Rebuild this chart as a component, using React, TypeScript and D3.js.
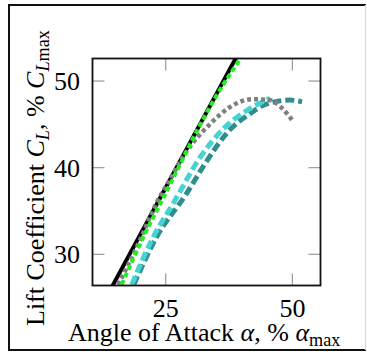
import React from "react";
import * as d3 from "d3";

const xTicks = [25, 50];
const yTicks = [30, 40, 50];

const blackA = [10, 40];
const blackC = [21.5, 53.9];

const greenA = [16.3, 19.0, 21.6, 24.0, 27.6, 31.3, 34.9, 39.8];
const greenC = [26.5, 30.0, 33.2, 35.9, 40.1, 44.4, 48.2, 52.6];

const grayA = [15.6, 19.9, 22.9, 25.2, 29.5, 33.7, 37.7, 42.0, 45.5, 47.9, 50.2];
const grayC = [26.5, 31.6, 35.6, 38.0, 42.2, 45.0, 47.0, 47.9, 47.8, 46.9, 45.3];

const cyanA = [18.3, 22.2, 26.8, 31.8, 36.4, 41.0, 45.6];
const cyanC = [26.5, 31.6, 36.2, 41.2, 44.5, 46.6, 48.0];

const tealA = [18.7, 23.2, 29.1, 32.8, 37.7, 41.3, 44.3, 49.5, 51.9];
const tealC = [26.5, 32.0, 37.0, 40.5, 44.4, 46.1, 47.2, 47.8, 47.6];

const W = 367;
const H = 352;
const L = 92.5, R = 320.5, T = 58.5, B = 285.5;

export default function App() {
  const x = d3.scaleLinear().domain([10.55, 55.55]).range([L, R]);
  const y = d3.scaleLinear().domain([26.4, 52.6]).range([B, T]);
  const line = d3.line<[number, number]>().x(d => x(d[0])).y(d => y(d[1])).curve(d3.curveMonotoneX);
  const pts = (a: number[], c: number[]) => a.map((v, i) => [v, c[i]] as [number, number]);
  const fs = 20;
  const k = 1.3;
  const series = [
    { a: blackA, c: blackC, color: "#000000", w: 4, dash: undefined as string | undefined },
    { a: tealA, c: tealC, color: "#2f8f8f", w: 5, dash: "9 4" },
    { a: cyanA, c: cyanC, color: "#45d3d3", w: 5, dash: "9 4" },
    { a: grayA, c: grayC, color: "#808080", w: 4.5, dash: "4 3" },
    { a: greenA, c: greenC, color: "#22ee22", w: 4, dash: "5 3" },
  ];
  const digitW = 26;
  return (
    <svg width={W} height={H} style={{ position: "absolute", left: 0, top: 0 }}>
      <rect x={0} y={0} width={W} height={H} fill="#fff" />
      <defs>
        <clipPath id="plotclip">
          <rect x={L} y={T} width={R - L} height={B - T} />
        </clipPath>
      </defs>
      <line x1={9} y1={5} x2={9} y2={350} stroke="#111" strokeWidth={2} />
      <line x1={8} y1={5} x2={366} y2={5} stroke="#111" strokeWidth={2} />
      <line x1={8} y1={350} x2={366} y2={350} stroke="#111" strokeWidth={2} />
      <line x1={365.5} y1={5} x2={365.5} y2={350} stroke="#ddd" strokeWidth={1.5} />
      {xTicks.map(t => (
        <g key={"xt" + t}>
          <line x1={x(t)} x2={x(t)} y1={B} y2={B - 12} stroke="#999" strokeWidth={1.2} />
          <line x1={x(t)} x2={x(t)} y1={T} y2={T + 12} stroke="#999" strokeWidth={1.2} />
        </g>
      ))}
      {yTicks.map(t => (
        <g key={"yt" + t}>
          <line x1={L} x2={L + 12} y1={y(t)} y2={y(t)} stroke="#999" strokeWidth={1.2} />
          <line x1={R} x2={R - 12} y1={y(t)} y2={y(t)} stroke="#999" strokeWidth={1.2} />
        </g>
      ))}
      <g clipPath="url(#plotclip)">
        {series.map((s, i) => (
          <path key={i} d={line(pts(s.a, s.c)) || ""} fill="none" stroke={s.color} strokeWidth={s.w} strokeDasharray={s.dash} />
        ))}
      </g>
      <rect x={L} y={T} width={R - L} height={B - T} fill="none" stroke="#111" strokeWidth={1.8} />
      <g transform={`scale(${k})`}>
        {xTicks.map(t => (
          <text key={"xl" + t} x={(x(t) - digitW / 2) / k} y={317 / k} fontSize={fs} style={{ fontFamily: '"Liberation Serif"' }}>{t}</text>
        ))}
        {yTicks.map(t => (
          <text key={"yl" + t} x={(80 - digitW) / k} y={(y(t) + 9) / k} fontSize={fs} style={{ fontFamily: '"Liberation Serif"' }}>{t}</text>
        ))}
        <text x={68 / k} y={341 / k} fontSize={fs} style={{ fontFamily: '"Liberation Serif"' }}>
          Angle of Attack <tspan fontStyle="italic">α</tspan>, % <tspan fontStyle="italic">α</tspan>
          <tspan fontSize={fs * 0.7} dy={4}>max</tspan>
        </text>
      </g>
      <g transform={`rotate(-90) scale(${k})`}>
        <text x={-326 / k} y={43.5 / k} fontSize={fs} style={{ fontFamily: '"Liberation Serif"' }}>
          Lift Coefficient <tspan fontStyle="italic">C</tspan>
          <tspan fontStyle="italic" fontSize={fs * 0.7} dy={4}>L</tspan>
          <tspan dy={-4}>, % </tspan>
          <tspan fontStyle="italic">C</tspan>
          <tspan fontSize={fs * 0.7} dy={4}><tspan fontStyle="italic">L</tspan>max</tspan>
        </text>
      </g>
    </svg>
  );
}
